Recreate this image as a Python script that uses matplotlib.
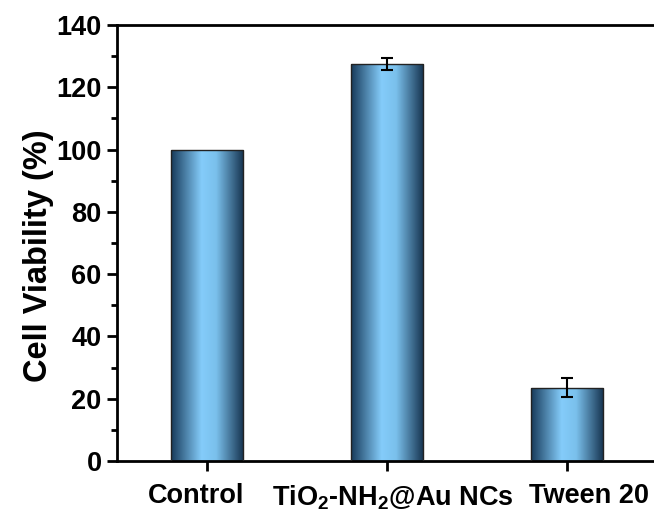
#!/usr/bin/env python3

import numpy as np
import matplotlib.pyplot as plt
from matplotlib.colors import LinearSegmentedColormap
from matplotlib.transforms import ScaledTranslation

plt.rcParams.update({"font.family": ["Liberation Sans", "DejaVu Sans"],
                     "font.weight": "bold",
                     "mathtext.fontset": "custom",
                     "mathtext.rm": "Liberation Sans:bold",
                     "mathtext.bf": "Liberation Sans:bold",
                     "mathtext.it": "Liberation Sans:bold"})

# Data
categories = ["Control", r"TiO$_\mathbf{2}$-NH$_\mathbf{2}$@Au NCs", "Tween 20"]
viability = [100.0, 127.5, 23.5]
errors = [0.0, 1.8, 3.0]


def main():
    fig = plt.figure(figsize=(6.54, 5.13), dpi=100)
    ax = fig.add_axes([0.1789, 0.1014, 0.8257, 0.8499])

    x = np.arange(1, len(categories) + 1)
    width = 0.4

    # Horizontal gradient: dark edges, light blue middle
    cmap = LinearSegmentedColormap.from_list(
        "bar", [(0.0, "#173a5a"), (0.42, "#84ccfa"), (0.62, "#7ac0ec"), (1.0, "#15324e")])
    grad = np.linspace(0, 1, 256).reshape(1, -1)

    bars = ax.bar(x, viability, width=width, color="none", edgecolor="#222222",
                  linewidth=1.0, zorder=3)
    for b in bars:
        x0, y0 = b.get_x(), b.get_y()
        im = ax.imshow(grad, cmap=cmap, aspect="auto", zorder=2,
                       extent=[x0, x0 + b.get_width(), y0, y0 + b.get_height()])
        im.set_clip_path(b)

    # Error bars (only where non-zero)
    for xi, v, e in zip(x, viability, errors):
        if e > 0:
            ax.errorbar(xi, v, yerr=e, fmt="none", ecolor="black",
                        elinewidth=1.5, capsize=4, capthick=1.5, zorder=4)

    ax.set_xlim(0.5, 3.5)
    ax.set_ylim(0, 140)
    ax.set_yticks(np.arange(0, 141, 20))
    ax.set_yticks(np.arange(10, 140, 20), minor=True)
    ax.set_xticks(x)
    ax.set_xticklabels(categories, fontsize=19.5, fontweight="bold")
    ax.tick_params(axis="y", labelsize=19.5, width=2, length=7, direction="out", pad=4)
    ax.tick_params(axis="y", which="minor", width=2, length=4, direction="out")
    ax.tick_params(axis="x", width=2, length=7, direction="out", pad=9)
    for lab in ax.get_yticklabels():
        lab.set_fontweight("bold")

    # labels in the original sit a little off their ticks
    shifts = [-11, 6, 22]
    for lab, dx in zip(ax.get_xticklabels(), shifts):
        lab.set_transform(lab.get_transform() + ScaledTranslation(dx / 100, 0, fig.dpi_scale_trans))

    for s in ["left", "bottom", "top"]:
        ax.spines[s].set_linewidth(2)
    ax.spines["right"].set_visible(False)

    ax.set_ylabel("Cell Viability (%)", fontsize=23.5, fontweight="bold",
                  labelpad=1.5, y=0.47)

    fig.savefig("out.png", dpi=100)


if __name__ == "__main__":
    main()
